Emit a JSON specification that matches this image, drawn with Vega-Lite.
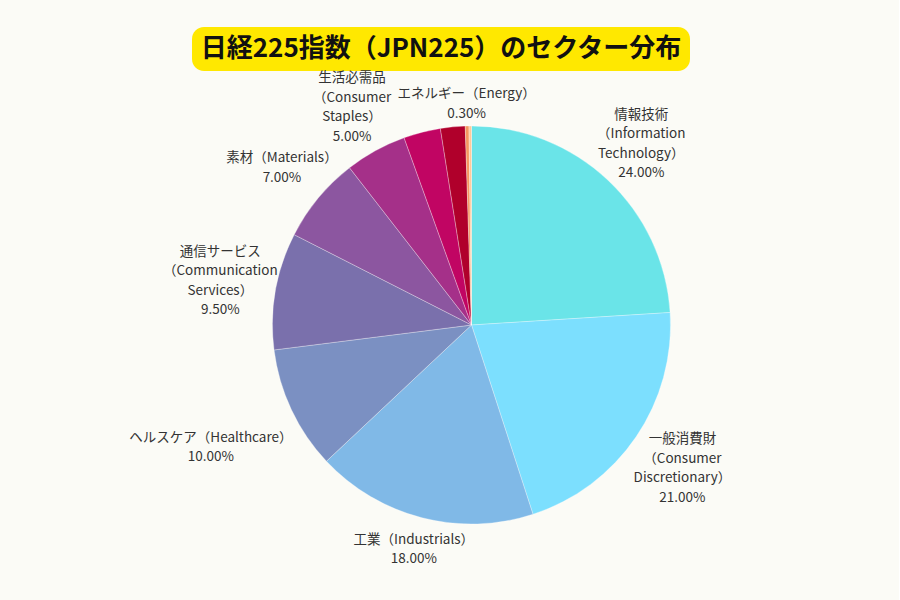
{
  "$schema": "https://vega.github.io/schema/vega-lite/v6.json",
  "background": "#fbfbf6",
  "padding": {"left": 129, "right": 148, "top": 20, "bottom": 38},
  "spacing": 10,
  "bounds": "flush",
  "config": {"font": "Noto Sans CJK JP", "view": {"stroke": null}},
  "datasets": {
    "title": [{"t": "日経225指数（JPN225）のセクター分布"}],
    "sectors": [
      {"sector": "情報技術", "value": 24, "label": "情報技術\n（Information\nTechnology）\n24.00%"},
      {"sector": "一般消費財", "value": 21, "label": "一般消費財\n（Consumer\nDiscretionary）\n21.00%"},
      {"sector": "工業", "value": 18, "label": "工業（Industrials）\n18.00%"},
      {"sector": "ヘルスケア", "value": 10, "label": "ヘルスケア（Healthcare）\n10.00%"},
      {"sector": "通信サービス", "value": 9.5, "label": "通信サービス\n（Communication\nServices）\n9.50%"},
      {"sector": "素材", "value": 7, "label": "素材（Materials）\n7.00%"},
      {"sector": "生活必需品", "value": 5, "label": "生活必需品\n（Consumer\nStaples）\n5.00%"},
      {"sector": "金融", "value": 3, "label": "金融（Financials）\n3.00%"},
      {"sector": "公益事業", "value": 2, "label": "公益事業（Utilities）\n2.00%"},
      {"sector": "エネルギー", "value": 0.3, "label": "エネルギー（Energy）\n0.30%"},
      {"sector": "不動産", "value": 0.2, "label": "不動産（Real Estate）\n0.20%"}
    ]
  },
  "vconcat": [
    {
      "width": 498,
      "height": 44,
      "view": {"fill": "#ffe800", "cornerRadius": 12, "stroke": null},
      "data": {"name": "title"},
      "mark": {"type": "text", "fontSize": 26, "fontWeight": "bold", "color": "#111111", "align": "center", "baseline": "middle"},
      "encoding": {"text": {"field": "t", "type": "nominal"}}
    },
    {
      "width": 559,
      "height": 488,
      "data": {"name": "sectors"},
      "encoding": {
        "theta": {"field": "value", "type": "quantitative", "stack": true},
        "order": {"field": "value", "type": "quantitative", "sort": "descending"},
        "detail": {"field": "sector", "type": "nominal"}
      },
      "layer": [
        {
          "mark": {"type": "arc", "outerRadius": 199, "stroke": "#ffffff", "strokeWidth": 0.5, "strokeOpacity": 0.6},
          "encoding": {
            "color": {
              "field": "sector", "type": "nominal", "legend": null,
              "scale": {
                "domain": ["情報技術", "一般消費財", "工業", "ヘルスケア", "通信サービス", "素材", "生活必需品", "金融", "公益事業", "エネルギー", "不動産"],
                "range": ["#6ae4e8", "#7cdffe", "#80b9e7", "#7b90c2", "#7a70ac", "#8c56a0", "#a53089", "#c10563", "#b0002b", "#f5975f", "#ffc89a"]
              }
            }
          }
        },
        {
          "mark": {"type": "text", "radius": 248, "dy": -29.25, "fontSize": 13.5, "lineBreak": "\n", "lineHeight": 19.5, "align": "center", "baseline": "middle", "color": "#333333"},
          "encoding": {"text": {"condition": {"test": "indexof(['情報技術','生活必需品'], datum.sector) >= 0", "field": "label"}, "value": ""}}
        },
        {
          "mark": {"type": "text", "radius": 246, "dy": -9.75, "fontSize": 13.5, "lineBreak": "\n", "lineHeight": 19.5, "align": "center", "baseline": "middle", "color": "#333333"},
          "encoding": {"text": {"condition": {"test": "datum.sector === '素材'", "field": "label"}, "value": ""}}
        },
        {
          "mark": {"type": "text", "radius": 255, "dy": -29.25, "fontSize": 13.5, "lineBreak": "\n", "lineHeight": 19.5, "align": "center", "baseline": "middle", "color": "#333333"},
          "encoding": {"text": {"condition": {"test": "indexof(['一般消費財','通信サービス'], datum.sector) >= 0", "field": "label"}, "value": ""}}
        },
        {
          "mark": {"type": "text", "radius": 232, "dy": -9.75, "fontSize": 13.5, "lineBreak": "\n", "lineHeight": 19.5, "align": "center", "baseline": "middle", "color": "#333333"},
          "encoding": {"text": {"condition": {"test": "datum.sector === '工業'", "field": "label"}, "value": ""}}
        },
        {
          "mark": {"type": "text", "radius": 288, "dy": -9.75, "fontSize": 13.5, "lineBreak": "\n", "lineHeight": 19.5, "align": "center", "baseline": "middle", "color": "#333333"},
          "encoding": {"text": {"condition": {"test": "datum.sector === 'ヘルスケア'", "field": "label"}, "value": ""}}
        },
        {
          "mark": {"type": "text", "radius": 221, "dy": -9.75, "fontSize": 13.5, "lineBreak": "\n", "lineHeight": 19.5, "align": "center", "baseline": "middle", "color": "#333333"},
          "encoding": {"text": {"condition": {"test": "datum.sector === 'エネルギー'", "field": "label"}, "value": ""}}
        }
      ]
    }
  ]
}
